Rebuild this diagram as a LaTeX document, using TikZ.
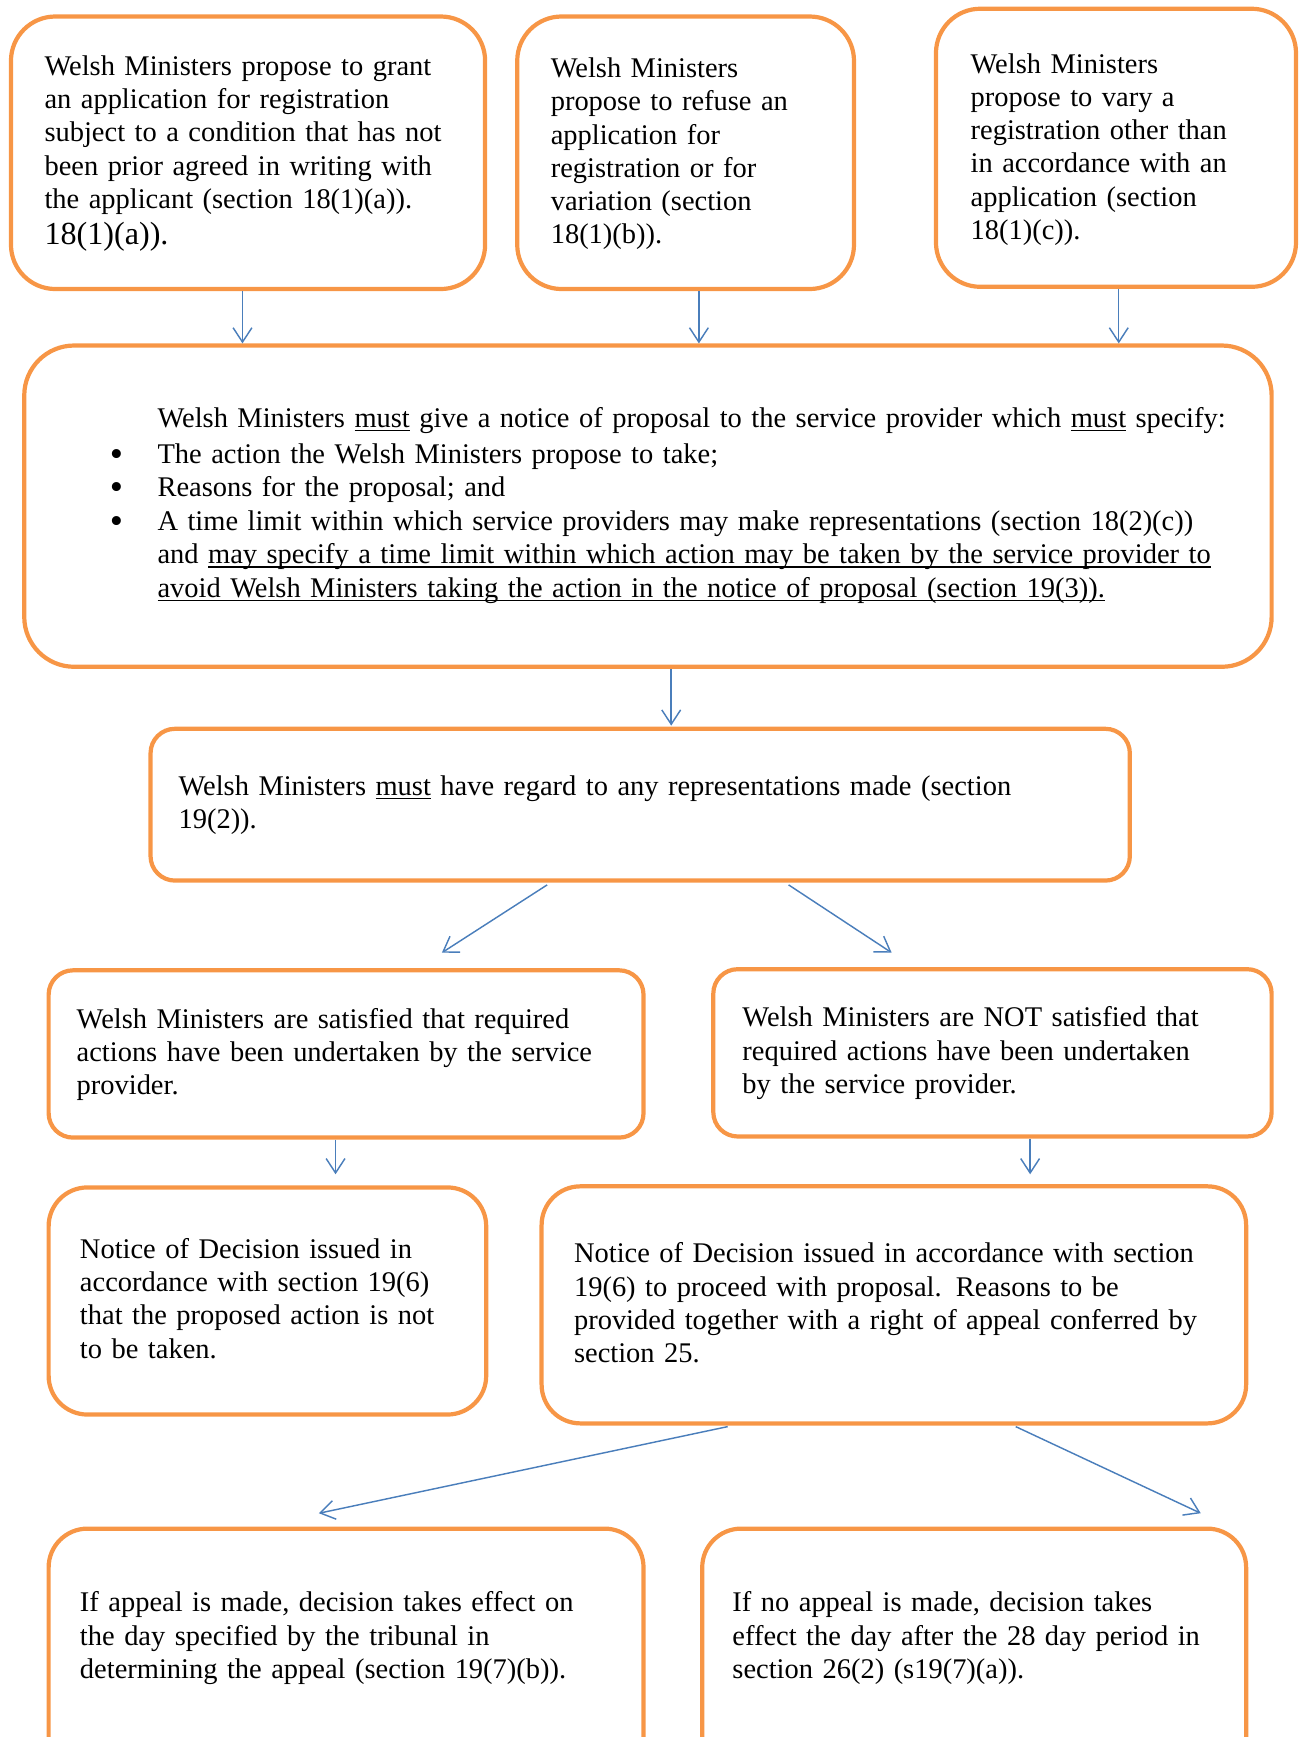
\documentclass[tikz,border=0pt]{standalone}
\usepackage{fontspec}
\setmainfont{Liberation Serif}
\usetikzlibrary{arrows.meta,calc}
\definecolor{boxorange}{HTML}{F79646}
\definecolor{arrowblue}{HTML}{4A7EBB}
\newcommand{\bul}{\leavevmode\hspace*{-37pt}\makebox[37pt][l]{\hspace*{-6pt}\raisebox{-3pt}{\fontsize{34}{30}\selectfont\textbullet}}}
\newcommand{\myul}[1]{\leavevmode\setbox0\hbox{#1}\rlap{\rule[-3.5pt]{\wd0}{1.3pt}}\box0\relax}
\begin{document}
\begin{tikzpicture}[x=1pt,y=-1pt,
  box/.style={draw=boxorange, line width=3.8pt, inner sep=0pt, anchor=north west},
  txt/.style={anchor=base west, inner sep=0pt, text width=1100pt, align=left, font=\fontsize{25.7}{30}\selectfont},
  arr/.style={draw=arrowblue, line width=1.3pt, -{Straight Barb[length=13pt,width=17pt]}}]
\useasboundingbox (0,0) rectangle (1172,1568);
\clip (0,0) rectangle (1172,1568);

\node[box, rounded corners=40pt, minimum width=428pt, minimum height=246pt] (a) at (8,13) {};
\node[box, rounded corners=40pt, minimum width=304pt, minimum height=246pt] (b) at (465,13) {};
\node[box, rounded corners=40pt, minimum width=325pt, minimum height=251pt] (c) at (843,6) {};
\node[box, rounded corners=45pt, minimum width=1126pt, minimum height=290pt] (d) at (20,310) {};
\node[box, rounded corners=22pt, minimum width=884pt, minimum height=137pt] (e) at (134,656) {};
\node[box, rounded corners=22pt, minimum width=537pt, minimum height=151pt] (f) at (42,874) {};
\node[box, rounded corners=22pt, minimum width=504pt, minimum height=151pt] (g) at (642,873) {};
\node[box, rounded corners=35pt, minimum width=395pt, minimum height=205pt] (h) at (42,1070) {};
\node[box, rounded corners=35pt, minimum width=636pt, minimum height=214pt] (i) at (487,1069) {};
\node[box, rounded corners=35pt, minimum width=537pt, minimum height=240pt] (j) at (42,1378) {};
\node[box, rounded corners=35pt, minimum width=491pt, minimum height=240pt] (k) at (632,1378) {};

\node[txt] (at) at (40,68) {Welsh Ministers propose to grant\\
an application for registration\\
subject to a condition that has not\\
been prior agreed in writing with\\
the applicant (section 18(1)(a)).\\[3pt]
{\fontsize{29}{33}\selectfont 18(1)(a)).}};

\node[txt] (bt) at (497,70) {Welsh Ministers\\
propose to refuse an\\
application for\\
registration or for\\
variation (section\\
18(1)(b)).};

\node[txt] (ct) at (876,66) {Welsh Ministers\\
propose to vary a\\
registration other than\\
in accordance with an\\
application (section\\
18(1)(c)).};

\node[txt] (dt) at (142,386) {Welsh Ministers \myul{must} give a notice of proposal to the service provider which \myul{must} specify:\\[2pt]
\bul The action the Welsh Ministers propose to take;\\
\bul Reasons for the proposal; and\\[1pt]
\bul A time limit within which service providers may make representations (section 18(2)(c))\\
and \myul{may specify a time limit within which action may be taken by the service provider to}\\
\myul{avoid Welsh Ministers taking the action in the notice of proposal (section 19(3)).}};

\node[txt] (et) at (161,718) {Welsh Ministers \myul{must} have regard to any representations made (section\\
19(2)).};

\node[txt] (ft) at (69,928) {Welsh Ministers are satisfied that required\\
actions have been undertaken by the service\\
provider.};

\node[txt] (gt) at (670,927) {Welsh Ministers are NOT satisfied that\\
required actions have been undertaken\\
by the service provider.};

\node[txt] (ht) at (72,1136) {Notice of Decision issued in\\
accordance with section 19(6)\\
that the proposed action is not\\
to be taken.};

\node[txt] (it) at (518,1140) {Notice of Decision issued in accordance with section\\
19(6) to proceed with proposal. Reasons to be\\
provided together with a right of appeal conferred by\\
section 25.};

\node[txt] (jt) at (72,1455) {If appeal is made, decision takes effect on\\
the day specified by the tribunal in\\
determining the appeal (section 19(7)(b)).};

\node[txt] (kt) at (661,1455) {If no appeal is made, decision takes\\
effect the day after the 28 day period in\\
section 26(2) (s19(7)(a)).};

\draw[arr] ($(a.south)+(-5,0)$) -- ($(a.south |- d.north)+(-5,0)$);
\draw[arr] ($(b.south)+(12,0)$) -- ($(b.south |- d.north)+(12,0)$);
\draw[arr] ($(c.south)+(2.5,0)$) -- ($(c.south |- d.north)+(2.5,0)$);
\draw[arr] ($(d.south)+(21,0)$) -- ($(d.south |- e.north)+(21,-1)$);
\draw[arr] ($(e.south)+(-84,2)$) -- ($(f.north)+(86.5,-14)$);
\draw[arr] ($(e.south)+(134,2)$) -- ($(g.north)+(-91,-13)$);
\draw[arr] ($(f.south)+(-9.5,0)$) -- ($(f.south |- h.north)+(-9.5,-10)$);
\draw[arr] ($(g.south)+(34,0)$) -- ($(g.south |- i.north)+(34,-9)$);
\draw[arr] ($(i.south)+(-150,1)$) -- ($(j.north)+(-24.5,-12)$);
\draw[arr] ($(i.south)+(110,1)$) -- ($(k.north)+(204.5,-12)$);
\end{tikzpicture}
\end{document}
